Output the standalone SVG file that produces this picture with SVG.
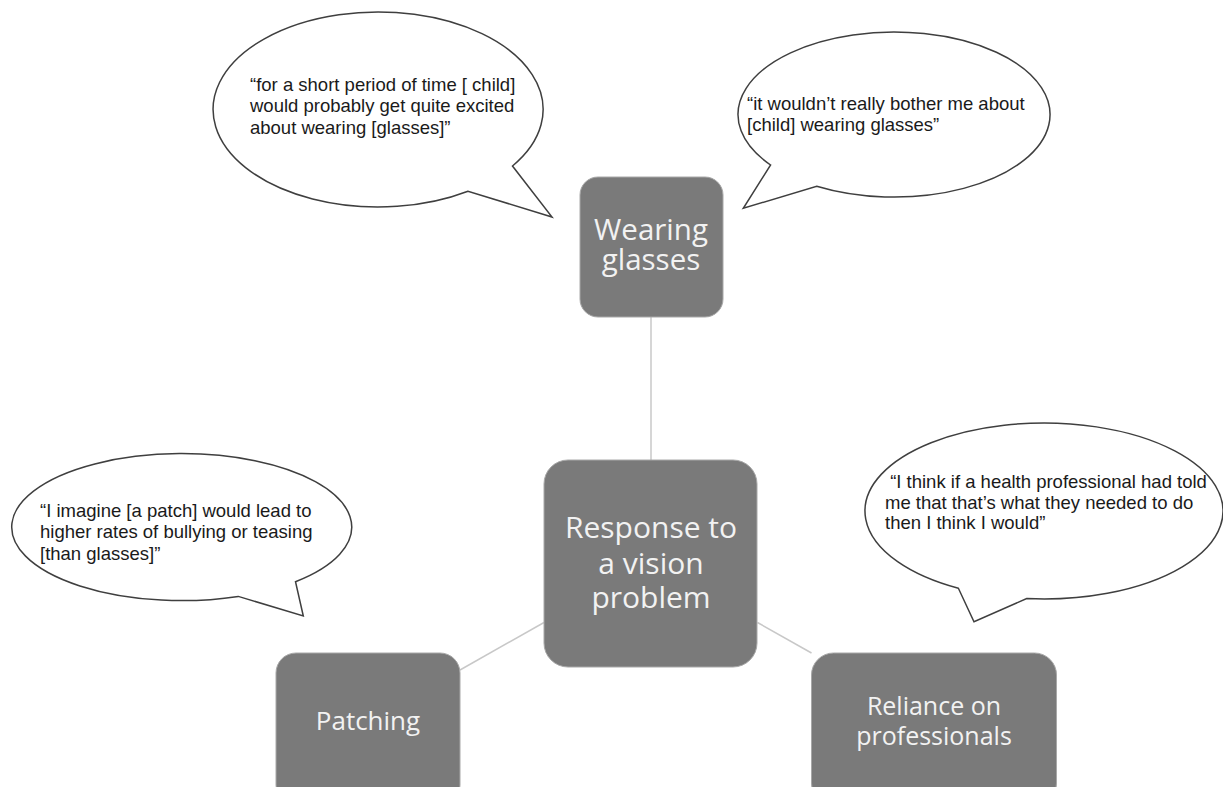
<svg xmlns="http://www.w3.org/2000/svg" width="1223" height="787" viewBox="0 0 1223 787">
  <style>
    .bubble { fill: #ffffff; stroke: #3f3f3f; stroke-width: 1.5; stroke-linejoin: miter; }
    .quote { font-family: "Liberation Sans", Arial, sans-serif; font-size: 18.5px; fill: #1a1a1a; }
    .node { fill: #7a7a7a; stroke: #a8a8a8; stroke-width: 1; }
    .label { font-family: "Open Sans", "Noto Sans", sans-serif; fill: #f2f2f2; text-anchor: middle; }
    .conn { stroke: #c8c8c8; stroke-width: 1.5; fill: none; }
  </style>
  <rect x="0" y="0" width="1223" height="787" fill="#ffffff"/>

  <g id="connectors">
    <line class="conn" x1="651" y1="317" x2="651" y2="460"/>
    <line class="conn" x1="544" y1="622.5" x2="460" y2="670"/>
    <line class="conn" x1="757.5" y1="622.5" x2="811.5" y2="653"/>
  </g>

  <g id="bubble-glasses-excited">
    <path class="bubble" d="M 468 191.2 A 165 97.5 0 1 1 512.5 166 L 552 217 Z"/>
    <text class="quote" x="250" y="90.5">“for a short period of time [ child]</text>
    <text class="quote" x="250" y="112">would probably get quite excited</text>
    <text class="quote" x="250" y="133.5">about wearing [glasses]”</text>
  </g>

  <g id="bubble-glasses-bother">
    <path class="bubble" d="M 816.7 186.2 A 156 82.5 0 1 0 770.6 165 L 743.3 208.3 Z"/>
    <text class="quote" x="747" y="110">“it wouldn’t really bother me about</text>
    <text class="quote" x="747" y="130.5">[child] wearing glasses”</text>
  </g>

  <g id="bubble-patch">
    <path class="bubble" d="M 238.3 596.4 A 170 73.5 0 1 1 295.5 581.7 L 303.3 616 Z"/>
    <text class="quote" x="40" y="516.5">“I imagine [a patch] would lead to</text>
    <text class="quote" x="40" y="538">higher rates of bullying or teasing</text>
    <text class="quote" x="40" y="559.5">[than glasses]”</text>
  </g>

  <g id="bubble-professional">
    <path class="bubble" d="M 1026.7 598.6 A 179 88 0 1 0 958.4 588.3 L 974 621.7 Z"/>
    <text class="quote" x="885" y="488" xml:space="preserve"> “I think if a health professional had told</text>
    <text class="quote" x="885" y="508.5">me that that’s what they needed to do</text>
    <text class="quote" x="885" y="529">then I think I would”</text>
  </g>

  <g id="node-wearing-glasses">
    <rect class="node" x="580" y="177" width="143" height="140" rx="18" ry="18"/>
    <text class="label" font-size="29.5px"><tspan x="651" y="240">Wearing</tspan><tspan x="651" y="270">glasses</tspan></text>
  </g>

  <g id="node-response">
    <rect class="node" x="544" y="460" width="213" height="207" rx="24" ry="24"/>
    <text class="label" font-size="30px"><tspan x="651" y="538">Response to</tspan><tspan x="651" y="573.5">a vision</tspan><tspan x="651" y="608">problem</tspan></text>
  </g>

  <g id="node-patching">
    <rect class="node" x="276" y="653" width="184" height="152" rx="20" ry="20"/>
    <text class="label" font-size="26px" x="368" y="730">Patching</text>
  </g>

  <g id="node-reliance">
    <rect class="node" x="811.5" y="653" width="245" height="152" rx="22" ry="22"/>
    <text class="label" font-size="25px"><tspan x="934" y="715">Reliance on</tspan><tspan x="934" y="745">professionals</tspan></text>
  </g>
</svg>
